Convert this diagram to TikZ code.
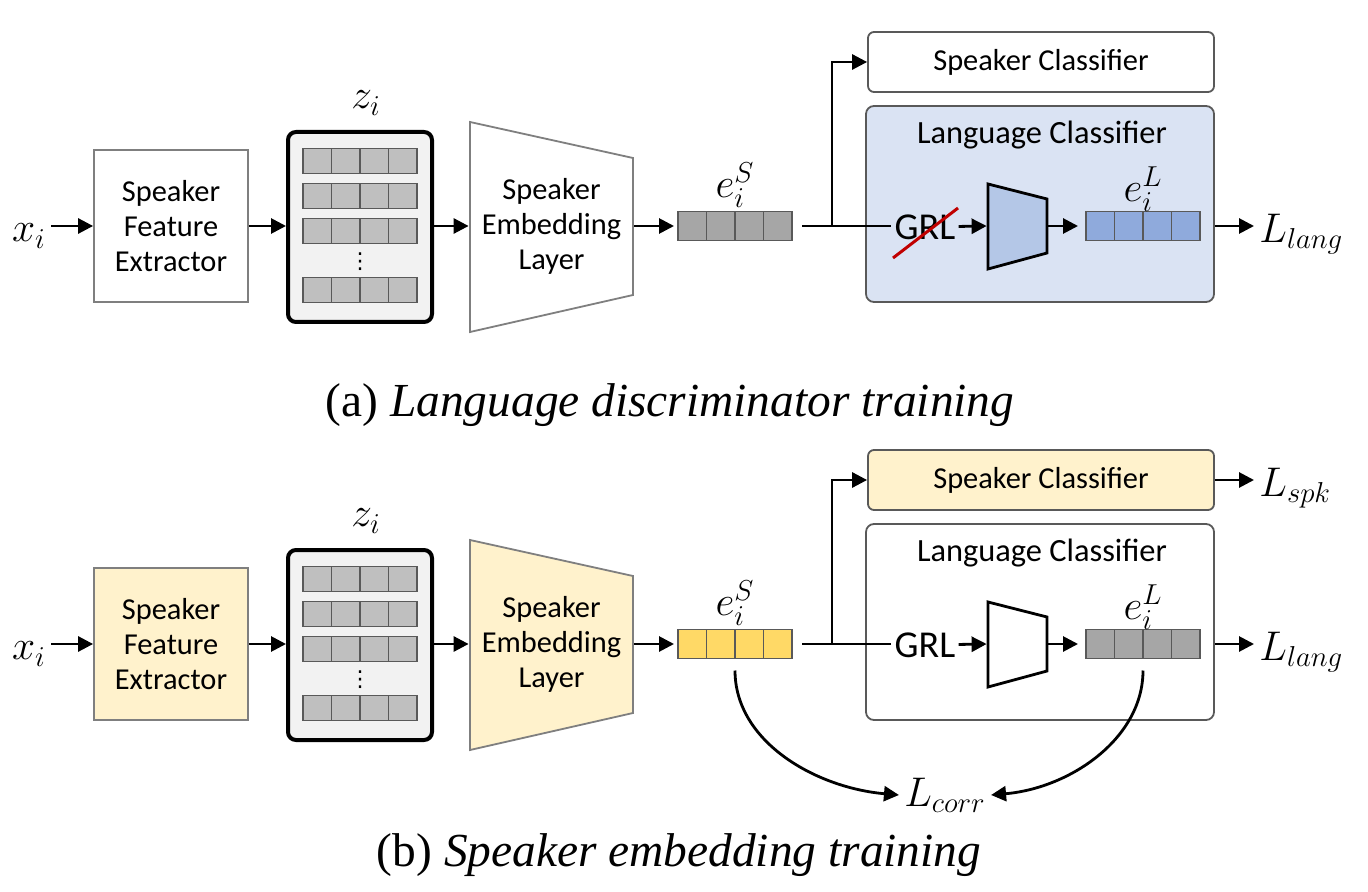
\documentclass[tikz,border=0pt]{standalone}
\usepackage{fontspec}
\setmainfont{Liberation Serif}
\setsansfont{Carlito}
\newfontfamily\dotsfont{DejaVu Sans}
\usetikzlibrary{arrows.meta, positioning}

\definecolor{boxgray}{HTML}{7F7F7F}
\definecolor{edgegray}{HTML}{595959}
\definecolor{rowgray}{HTML}{BFBFBF}
\definecolor{cellgray}{HTML}{A6A6A6}
\definecolor{zback}{HTML}{F2F2F2}
\definecolor{lcblue}{HTML}{DAE3F3}
\definecolor{trapblue}{HTML}{B4C7E7}
\definecolor{vecblue}{HTML}{8FAADC}
\definecolor{spkyellow}{HTML}{FFF2CC}
\definecolor{vecyellow}{HTML}{FFD966}
\definecolor{strikered}{HTML}{C00000}

% three inner walls of a 4-cell vector node
\newcommand{\celldividers}[1]{%
    \foreach \k in {1,2,3}
        \draw[draw=edgegray, line width=0.9pt] ([xshift=\k*14.25pt]#1.north west) -- ([xshift=\k*14.25pt]#1.south west);}

\begin{document}
\begin{tikzpicture}[
        x=0.5pt, y=0.5pt,
        every node/.style={inner sep=2pt, font=\sffamily\fontsize{15.2}{17.5}\selectfont},
        line width=1.4pt,
        >={Triangle[length=7.5pt, width=7.5pt]}, % filled heads as in the figure
        blk/.style={draw=boxgray, line width=0.9pt, minimum width=77pt, minimum height=76pt, align=center},
        zbox/.style={draw=black, line width=2pt, rounded corners=4pt, fill=zback, minimum width=72pt, minimum height=95pt},
        vec/.style={draw=edgegray, line width=0.9pt, inner sep=0pt, outer sep=0pt, minimum width=57pt, minimum height=14.5pt},
        zrow/.style={vec, fill=rowgray, minimum height=12.5pt},
        zdots/.style={inner sep=0pt, font=\dotsfont\fontsize{11}{11}\selectfont},
        trapline/.style={draw=boxgray, line width=0.9pt},
        smalltrap/.style={draw=black, line width=1.4pt},
        clsbox/.style={draw=edgegray, line width=0.9pt, rounded corners=3pt, minimum width=173pt, minimum height=30pt},
        lcbox/.style={draw=edgegray, line width=0.9pt, rounded corners=4pt, minimum width=174pt, minimum height=98pt},
        lctitle/.style={font=\sffamily\fontsize{16.2}{19}\selectfont},
        mathlbl/.style={font=\fontsize{21.5}{24}\selectfont},
        elbl/.style={font=\fontsize{20.5}{23}\selectfont},
        grl/.style={font=\sffamily\fontsize{19}{22}\selectfont, inner sep=1pt},
        caption/.style={font=\rmfamily\fontsize{23.7}{27}\selectfont},
        strike/.style={draw=strikered, line width=1.5pt}
    ]
        \useasboundingbox (0,0) rectangle (1368,-892);

        % ---------------- (a) language discriminator training ----------------
        \node[mathlbl] (xa) at (29,-236) {$x_i$};
        \node[blk] (sfea) at (171,-226) {Speaker\\Feature\\Extractor};

        % stacked frame features z_i
        \node[zbox] (za) at (360,-227) {};
        \node[mathlbl] (zalbl) at (366,-103) {$z_i$};
        \node[zrow] (za1) at (360,-161) {};
        \node[zrow] (za2) at (360,-196) {};
        \node[zrow] (za3) at (360,-231) {};
        \node[zdots] (zadots) at (360,-262) {⋮};
        \node[zrow] (za4) at (360,-290) {};
        \foreach \r in {za1,za2,za3,za4} \celldividers{\r};

        % speaker embedding layer (trapezoid)
        \draw[trapline, fill=white] (470,-122) -- (633,-158) -- (633,-295) -- (470,-332) -- cycle;
        \node[minimum width=81.5pt, align=center] (emba) at (551.5,-226) {Speaker\\Embedding\\Layer};

        \node[vec, fill=cellgray] (esa) at (735,-226) {};
        \celldividers{esa}
        \node[elbl] (esalbl) at (735,-185) {$e_i^S$};

        % classifiers
        \node[clsbox, fill=white] (spka) at (1041,-62) {Speaker Classifier};
        \node[lcbox, fill=lcblue] (lca) at (1040,-204) {};
        \node[lctitle] (lctitlea) at (1042,-135) {Language Classifier};
        \node[grl] (grla) at (925,-227) {GRL};
        \draw[strike] (893,-258) -- (958,-208);
        \draw[smalltrap, fill=trapblue] (988,-184) -- (1047,-199) -- (1047,-253) -- (988,-269) -- cycle;
        \node[minimum width=29.5pt] (smalla) at (1017.5,-226) {};
        \node[vec, fill=vecblue] (ela) at (1143,-226) {};
        \celldividers{ela}
        \node[elbl] (elalbl) at (1143,-189) {$e_i^L$};
        \node[mathlbl, anchor=west] (llanga) at (1254,-234) {$L_{lang}$};
        \coordinate (bra) at (832,-226);

        % arrows
        \draw[->] (xa.east |- sfea) -- (sfea.west);
        \draw[->] (sfea.east) -- (sfea.east -| za.west);
        \draw[->] (za.east |- emba) -- (emba.west);
        \draw[->, shorten >=2pt] (emba) -- (esa);
        \draw[shorten <=5pt] (esa.east) -- (grla.west |- esa);
        \draw[->] (bra) |- (spka.west);
        \draw[->] (grla) -- (smalla.west);
        \draw[->, shorten >=4pt] (smalla.east) -- (ela.west);
        \draw[->] (ela.east -| lca.east) -- (llanga.west |- ela);

        \node[caption] (capa) at (670,-405) {(a) \textit{Language discriminator training}};

        % ---------------- (b) speaker embedding training ----------------
        \begin{scope}[yshift=-209pt]
        \node[mathlbl] (xb) at (29,-236) {$x_i$};
        \node[blk, fill=spkyellow] (sfeb) at (171,-226) {Speaker\\Feature\\Extractor};

        \node[zbox] (zb) at (360,-227) {};
        \node[mathlbl] (zblbl) at (366,-103) {$z_i$};
        \node[zrow] (zb1) at (360,-161) {};
        \node[zrow] (zb2) at (360,-196) {};
        \node[zrow] (zb3) at (360,-231) {};
        \node[zdots] (zbdots) at (360,-262) {⋮};
        \node[zrow] (zb4) at (360,-290) {};
        \foreach \r in {zb1,zb2,zb3,zb4} \celldividers{\r};

        \draw[trapline, fill=spkyellow] (470,-122) -- (633,-158) -- (633,-295) -- (470,-332) -- cycle;
        \node[minimum width=81.5pt, align=center] (embb) at (551.5,-226) {Speaker\\Embedding\\Layer};

        \node[vec, fill=vecyellow] (esb) at (735,-226) {};
        \celldividers{esb}
        \node[elbl] (esblbl) at (735,-185) {$e_i^S$};

        \node[clsbox, fill=spkyellow] (spkb) at (1041,-62) {Speaker Classifier};
        \node[mathlbl, anchor=west] (lspkb) at (1254,-70) {$L_{spk}$};
        \node[lcbox, fill=white] (lcb) at (1040,-204) {};
        \node[lctitle] (lctitleb) at (1042,-135) {Language Classifier};
        \node[grl] (grlb) at (925,-227) {GRL};
        \draw[smalltrap, fill=white] (988,-184) -- (1047,-199) -- (1047,-253) -- (988,-269) -- cycle;
        \node[minimum width=29.5pt] (smallb) at (1017.5,-226) {};
        \node[vec, fill=cellgray] (elb) at (1143,-226) {};
        \celldividers{elb}
        \node[elbl] (elblbl) at (1143,-189) {$e_i^L$};
        \node[mathlbl, anchor=west] (llangb) at (1254,-234) {$L_{lang}$};
        \node[mathlbl] (lcorrb) at (945,-377) {$L_{corr}$};
        \coordinate (brb) at (832,-226);

        \draw[->] (xb.east |- sfeb) -- (sfeb.west);
        \draw[->] (sfeb.east) -- (sfeb.east -| zb.west);
        \draw[->] (zb.east |- embb) -- (embb.west);
        \draw[->, shorten >=2pt] (embb) -- (esb);
        \draw[shorten <=5pt] (esb.east) -- (grlb.west |- esb);
        \draw[->] (brb) |- (spkb.west);
        \draw[->] (spkb.east) -- (lspkb.west |- spkb);
        \draw[->] (grlb) -- (smallb.west);
        \draw[->, shorten >=4pt] (smallb.east) -- (elb.west);
        \draw[->] (elb.east -| lcb.east) -- (llangb.west |- elb);

        % correlation loss
        \draw[->, shorten <=6pt] (esb.south) to[out=-90, in=175] (lcorrb.west);
        \draw[->, shorten <=6pt] (elb.south) to[out=-90, in=5] (lcorrb.east);

        \node[caption] (capb) at (679,-437) {(b) \textit{Speaker embedding training}};
        \end{scope}
    \end{tikzpicture}
\end{document}
